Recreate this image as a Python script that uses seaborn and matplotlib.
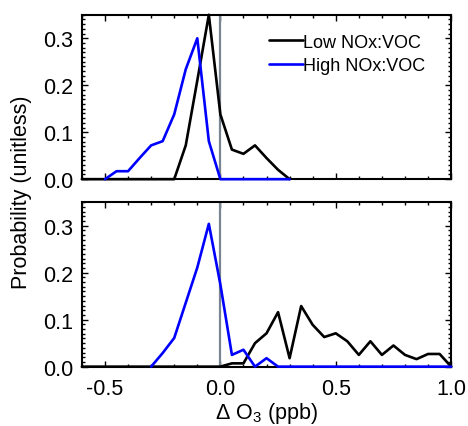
import numpy as np
import pandas as pd
import matplotlib
matplotlib.use("Agg")
import matplotlib.pyplot as plt
import seaborn as sns
from matplotlib.ticker import MultipleLocator

# bin centres (ppb) and probabilities
x_top_low = [-0.6, -0.55, -0.5, -0.45, -0.4, -0.35, -0.3, -0.25, -0.2, -0.15,
             -0.1, -0.05, 0.0, 0.05, 0.1, 0.15, 0.2, 0.25, 0.3]
p_top_low = [0, 0, 0, 0, 0, 0, 0, 0, 0, 0.072,
             0.21, 0.35, 0.138, 0.063, 0.054, 0.072, 0.045, 0.02, 0]

x_top_high = [-0.5, -0.45, -0.4, -0.35, -0.3, -0.25, -0.2, -0.15, -0.1, -0.05,
              0.0, 0.05, 0.1, 0.15, 0.2, 0.25, 0.3]
p_top_high = [0, 0.017, 0.017, 0.045, 0.072, 0.081, 0.138, 0.234, 0.30, 0.081,
              0, 0, 0, 0, 0, 0, 0]

x_bot_low = [-0.6, -0.55, -0.5, -0.45, -0.4, -0.35, -0.3, -0.25, -0.2, -0.15,
             -0.1, -0.05, 0.0, 0.05, 0.1, 0.15, 0.2, 0.25, 0.3, 0.35,
             0.4, 0.45, 0.5, 0.55, 0.6, 0.65, 0.7, 0.75, 0.8, 0.85,
             0.9, 0.95, 1.0]
p_bot_low = [0, 0, 0, 0, 0, 0, 0, 0, 0, 0,
             0, 0, 0, 0.007, 0.007, 0.05, 0.071, 0.116, 0.018, 0.129,
             0.089, 0.063, 0.071, 0.054, 0.025, 0.054, 0.025, 0.045, 0.025, 0.016,
             0.027, 0.027, 0]

x_bot_high = [-0.3, -0.25, -0.2, -0.15, -0.1, -0.05, 0.0, 0.05, 0.1, 0.15,
              0.2, 0.25, 0.3, 0.35, 0.4, 0.45, 0.5, 0.55, 0.6, 0.65,
              0.7, 0.75, 0.8, 0.85, 0.9, 0.95, 1.0]
p_bot_high = [0, 0.029, 0.061, 0.136, 0.211, 0.304, 0.175, 0.025, 0.036, 0,
              0.018, 0, 0, 0, 0, 0, 0, 0, 0, 0,
              0, 0, 0, 0, 0, 0, 0]

labels = ["Low NOx:VOC", "High NOx:VOC"]
colors = ["black", "#0000ff"]

sns.set_style("ticks")
plt.rcParams['font.family'] = ['Liberation Sans', 'DejaVu Sans']
plt.rcParams['mathtext.fontset'] = 'custom'
plt.rcParams['mathtext.rm'] = 'Liberation Sans'
plt.rcParams['mathtext.it'] = 'Liberation Sans:italic'
plt.rcParams['text.color'] = 'black'
plt.rcParams['axes.labelcolor'] = 'black'
plt.rcParams['xtick.color'] = 'black'
plt.rcParams['ytick.color'] = 'black'

fig = plt.figure(figsize=(4.68, 4.27), dpi=100)
ax1 = fig.add_axes([0.175, 0.578, 0.789, 0.385])
ax2 = fig.add_axes([0.175, 0.139, 0.789, 0.385])

panels = [
    (ax1, (x_top_low, p_top_low), (x_top_high, p_top_high)),
    (ax2, (x_bot_low, p_bot_low), (x_bot_high, p_bot_high)),
]

for ax, low, high in panels:
    ax.axvline(0, color="#7a8593", lw=1.6, zorder=1)
    for (xs, ps), lab, c in zip([low, high], labels, colors):
        df = pd.DataFrame({"x": xs, "p": ps})
        sns.lineplot(data=df, x="x", y="p", ax=ax, color=c, lw=1.9,
                     label=lab, clip_on=False, zorder=3)
    ax.set_xlim(-0.6, 1.0)
    ax.set_ylim(0, 0.35)
    ax.xaxis.set_major_locator(MultipleLocator(0.5))
    ax.xaxis.set_minor_locator(MultipleLocator(0.1))
    ax.yaxis.set_major_locator(MultipleLocator(0.1))
    ax.yaxis.set_minor_locator(MultipleLocator(0.01))
    ax.tick_params(which="both", direction="in", top=True, right=True,
                   labelsize=15.5, width=1.0, color="black",
                   labelcolor="black")
    ax.tick_params(axis="y", pad=6)
    ax.tick_params(axis="x", pad=8)
    ax.tick_params(which="major", length=4)
    ax.tick_params(which="minor", length=2.3)
    ax.yaxis.set_major_formatter(plt.FormatStrFormatter("%.1f"))
    ax.xaxis.set_major_formatter(plt.FormatStrFormatter("%.1f"))
    for s in ax.spines.values():
        s.set_linewidth(1.5)
        s.set_color("black")
    ax.set_xlabel("")
    ax.set_ylabel("")

ax1.tick_params(labelbottom=False)
ax1.legend(loc="upper right", bbox_to_anchor=(0.95, 0.93), frameon=False,
           fontsize=13, handlelength=1.9, handletextpad=0.02,
           labelspacing=0.35, borderaxespad=0, labelcolor="black")
ax2.get_legend().remove()

ax2.set_xlabel("\u0394 O$_3$ (ppb)", fontsize=15.5, labelpad=1, color="black")
fig.text(0.045, 0.55, "Probability (unitless)", rotation=90, fontsize=15.5,
         ha="center", va="center", color="black")

fig.savefig("out.png", dpi=100)
